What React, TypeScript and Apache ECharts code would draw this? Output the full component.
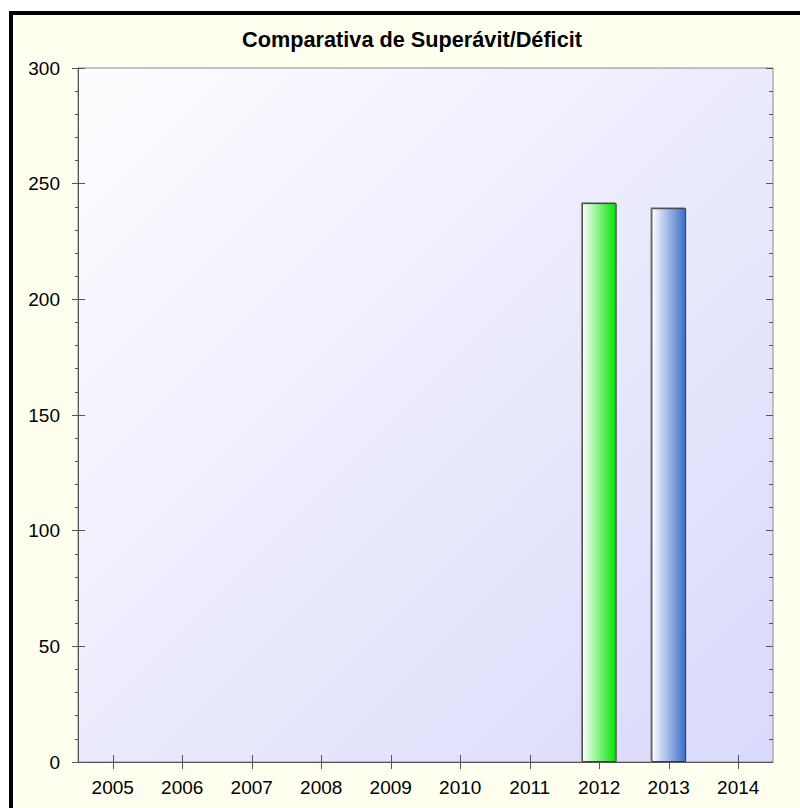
import React, { useEffect, useRef } from "react";
import * as echarts from "echarts";

const years = ["2005", "2006", "2007", "2008", "2009", "2010", "2011", "2012", "2013", "2014"];
const values: (number | null)[] = [null, null, null, null, null, null, null, 241.6, 239.4, null];
const titleText = "Comparativa de Superávit/Déficit";

const FONT = "Arial, 'Liberation Sans', sans-serif";

export default function App() {
  const ref = useRef<HTMLDivElement>(null);
  useEffect(() => {
    if (!ref.current) return;
    const chart = echarts.init(ref.current, undefined, { renderer: "svg" });
    const barColors: Record<string, string> = { "2012": "#00e400", "2013": "#3a6cc8" };
    const data = values.map((v, i) => {
      const c = barColors[years[i]] || "#888888";
      return {
        value: v,
        itemStyle: {
          color: new echarts.graphic.LinearGradient(0, 0, 1, 0, [
            { offset: 0, color: "#ffffff" },
            { offset: 1, color: c },
          ]),
        },
      };
    });
    const gridCfg = { left: 78, top: 68, right: 27, bottom: 46 };
    const commonY = { type: "value" as const, min: 0, max: 300, interval: 50 };
    chart.setOption({
      animation: false,
      backgroundColor: "#ffffff",
      graphic: [
        {
          type: "rect",
          z: -10,
          shape: { x: 11, y: 13, width: 900, height: 900 },
          style: { fill: "#fffff0", stroke: "#000000", lineWidth: 4 },
        },
        {
          type: "text",
          x: 412,
          y: 39,
          style: {
            text: titleText,
            fontFamily: FONT,
            fontSize: 21.7,
            fontWeight: "bold",
            fill: "#000",
            align: "center",
            verticalAlign: "middle",
          },
        },
      ],
      grid: {
        ...gridCfg,
        show: true,
        borderColor: "#8a8a8a",
        borderWidth: 1,
        backgroundColor: new echarts.graphic.LinearGradient(0, 0, 1, 1, [
          { offset: 0, color: "#fdfdff" },
          { offset: 1, color: "#d9d9fb" },
        ]),
      },
      xAxis: [
        {
          type: "category",
          data: years,
          position: "bottom",
          axisLine: { show: true, lineStyle: { color: "#555" } },
          axisTick: { show: true, alignWithLabel: true, inside: false, length: 7, lineStyle: { color: "#555" } },
          axisLabel: { fontFamily: FONT, fontSize: 19, color: "#000", margin: 16 },
        },
        {
          type: "category",
          data: years,
          position: "bottom",
          axisLine: { show: false },
          axisTick: { show: true, alignWithLabel: true, inside: true, length: 7, lineStyle: { color: "#555" } },
          axisLabel: { show: false },
        },
        {
          type: "category",
          data: years,
          position: "top",
          axisLine: { show: false },
          axisTick: { show: true, alignWithLabel: true, inside: true, length: 6, lineStyle: { color: "#555" } },
          axisLabel: { show: false },
        },
      ],
      yAxis: [
        {
          ...commonY,
          position: "left",
          axisLine: { show: true, lineStyle: { color: "#555" } },
          axisTick: { show: true, inside: false, length: 6, lineStyle: { color: "#555" } },
          minorTick: { show: true, splitNumber: 5, length: 3, lineStyle: { color: "#555" } },
          splitLine: { show: false },
          axisLabel: { fontFamily: FONT, fontSize: 19, color: "#000", margin: 18 },
        },
        {
          ...commonY,
          position: "left",
          axisLine: { show: false },
          axisTick: { show: true, inside: true, length: 7, lineStyle: { color: "#555" } },
          minorTick: { show: false },
          splitLine: { show: false },
          axisLabel: { show: false },
        },
        {
          ...commonY,
          position: "right",
          axisLine: { show: false },
          axisTick: { show: true, inside: true, length: 7, lineStyle: { color: "#555" } },
          minorTick: { show: true, splitNumber: 5, length: 4, lineStyle: { color: "#555" } },
          splitLine: { show: false },
          axisLabel: { show: false },
        },
      ],
      series: [
        {
          type: "bar",
          xAxisIndex: 0,
          yAxisIndex: 0,
          data,
          barWidth: "50%",
          itemStyle: {
            borderColor: "#3a3a3a",
            borderWidth: 1,
            shadowColor: "rgba(0,0,0,0.35)",
            shadowOffsetX: -1,
            shadowOffsetY: -1,
            shadowBlur: 0,
          },
        },
      ],
    });
    return () => chart.dispose();
  }, []);
  return (
    <div
      ref={ref}
      style={{ position: "fixed", left: 0, top: 0, width: 800, height: 808 }}
    />
  );
}
